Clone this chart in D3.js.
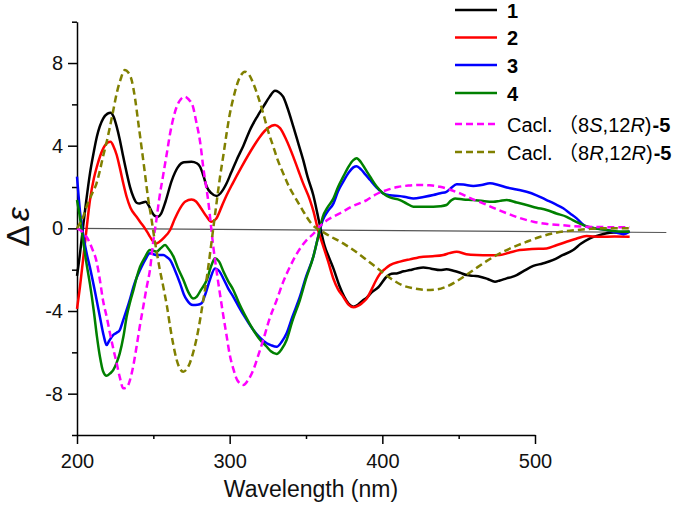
<!DOCTYPE html>
<html><head><meta charset="utf-8">
<script src="https://cdn.jsdelivr.net/npm/d3@7"></script>
<style>body{margin:0;background:#fff}svg{display:block}</style>
</head><body>
<svg id="c" width="687" height="507"></svg>
<script>
// ---- data ----
const xTicks = [200, 300, 400, 500];
const xMinor = [250, 350, 450];
const yTicks = [-8, -4, 0, 4, 8];
const yMinor = [-10, -6, -2, 2, 6, 10];
const xTitle = "Wavelength (nm)";
const zeroLine = [[200, 0], [586, -0.2]];

const s1 = [[200,-2.3],[202,-1.2],[204,0.1],[206,1.3],[208.5,2.66],[211,3.7],[213,4.43],[217.2,5.32],[220,5.55],[222,5.6],[224,5.4],[226,4.92],[228,4.3],[230.3,3.46],[232.5,2.7],[234.7,2.01],[237,1.5],[239,1.24],[241,1.2],[243,1.25],[245,1.29],[247,1.1],[249,0.8],[251,0.6],[253,0.56],[255,0.7],[258,1.3],[262,2.3],[266,2.95],[270,3.2],[275,3.22],[278.5,3.15],[280.6,2.98],[283,2.5],[285,2.01],[288,1.7],[291.5,1.56],[294,1.7],[298,2.18],[301,2.7],[304.5,3.3],[309,4.0],[313.3,4.76],[318,5.4],[322,5.88],[326,6.35],[329.7,6.66],[332,6.6],[335,6.37],[338,5.8],[341.7,4.92],[345,4.1],[348.2,3.3],[351,2.5],[354.8,1.6],[357.5,0.7],[359.5,0],[362,-0.8],[365,-1.4],[368,-1.95],[372,-2.8],[375,-3.3],[378,-3.65],[381,-3.79],[384,-3.7],[387,-3.5],[389.8,-3.35],[393,-3.1],[397.4,-2.85],[402.8,-2.34],[406,-2.2],[409.4,-2.18],[414,-2.08],[418,-2.02],[422,-1.95],[426.8,-1.89],[432,-1.95],[437.8,-2.02],[442,-1.98],[446.5,-2.05],[451,-2.15],[455.2,-2.26],[460,-2.3],[464,-2.34],[469,-2.45],[473.8,-2.58],[477,-2.52],[481.4,-2.42],[485,-2.35],[488,-2.26],[493,-2.05],[498.9,-1.82],[505,-1.7],[512,-1.53],[518,-1.3],[525,-1.05],[530,-0.75],[536,-0.48],[541,-0.35],[547,-0.24],[553,-0.2],[558,-0.18],[562,-0.16]];

const s2 = [[200,-3.9],[202,-2.8],[204,-1.5],[206,-0.2],[208.5,1.37],[211,2.4],[213,2.98],[217.2,3.87],[220,4.15],[222,4.19],[224,3.95],[226,3.55],[228,2.95],[230.3,2.18],[232.5,1.53],[235,1.0],[239,0.56],[241.5,0.3],[244.5,0],[247,-0.3],[249.5,-0.6],[252,-0.73],[254,-0.65],[257,-0.45],[261,-0.08],[264,0.45],[267.5,0.97],[271,1.3],[275,1.40],[278,1.3],[281,1.0],[285,0.56],[288,0.32],[291,0.45],[295,1.1],[298,1.6],[302,2.18],[308,3.0],[315.5,3.95],[320,4.45],[325,4.85],[329.7,5.0],[333,4.85],[337,4.3],[341.7,3.46],[345,2.8],[348,2.2],[352.6,1.37],[355,0.8],[357.6,0],[361,-0.8],[364.5,-1.6],[368,-2.45],[371,-2.95],[374.4,-3.31],[378,-3.7],[381,-3.82],[384,-3.75],[387,-3.6],[389.8,-3.4],[393,-2.95],[396,-2.5],[398.5,-2.2],[402,-1.95],[405,-1.78],[411.6,-1.61],[418,-1.5],[426.8,-1.37],[433,-1.35],[440,-1.29],[444,-1.2],[448.7,-1.13],[455,-1.25],[461.8,-1.29],[470,-1.3],[477,-1.29],[483,-1.18],[490,-1.05],[498,-1.0],[507.6,-0.97],[514,-0.82],[520.7,-0.65],[527,-0.5],[533.8,-0.37],[542.6,-0.41],[552,-0.4],[562,-0.41]];

const s3 = [[200,2.5],[201,1.6],[202,0.8],[204,-0.3],[206,-1.1],[208.5,-1.9],[211.8,-3.07],[215,-4.28],[217.5,-5.2],[219.4,-5.65],[221,-5.45],[223.8,-5.16],[226,-5.05],[228,-4.92],[230,-4.5],[232.5,-3.95],[235,-3.35],[237,-2.82],[239,-2.4],[241.3,-2.02],[244.5,-1.55],[247.8,-1.21],[250,-1.25],[252,-1.29],[256.5,-1.29],[259,-1.4],[261,-1.53],[264,-2.0],[267.5,-2.66],[270,-3.2],[272,-3.47],[274,-3.65],[276,-3.71],[279,-3.7],[281.6,-3.63],[284,-3.2],[287,-2.5],[290.4,-1.94],[293,-2.05],[296,-2.45],[299,-2.9],[302.4,-3.31],[306,-3.8],[310,-4.3],[315.5,-4.92],[320,-5.3],[324.3,-5.56],[327,-5.65],[330.8,-5.73],[334,-5.5],[337.3,-5.08],[341,-4.3],[346,-3.31],[350,-2.35],[354.8,-1.37],[358,-0.4],[361,0.4],[364,0.8],[368,1.21],[371,1.8],[374.4,2.26],[378,2.7],[381,2.95],[383.2,3.01],[386,2.85],[389,2.6],[392,2.34],[396,2.0],[400.6,1.69],[405,1.6],[411.6,1.56],[416,1.5],[420.3,1.45],[427,1.52],[433.4,1.61],[438,1.7],[442,1.77],[445,1.95],[448.7,2.14],[453,2.12],[459.6,2.05],[465,2.1],[470.5,2.18],[476,2.1],[481.5,1.98],[488,1.88],[494.5,1.77],[501,1.6],[507.6,1.37],[513,1.18],[518.5,0.97],[523,0.72],[527.3,0.48],[530.5,0.25],[533.8,0.08],[540,0.0],[547,-0.08],[553,-0.2],[558,-0.28],[562,-0.16]];

const s4 = [[200,1.37],[202,0.5],[204,-0.6],[206,-1.6],[208.5,-2.7],[211,-4.0],[213,-5.2],[215,-6.2],[217,-6.9],[219.4,-7.13],[222,-7.0],[223.8,-6.85],[226,-6.5],[228,-6.05],[230.5,-5.2],[232.5,-4.28],[235,-3.5],[237,-2.98],[239,-2.4],[241.3,-1.86],[244.5,-1.4],[247.8,-1.05],[250,-1.08],[252,-1.13],[255,-0.95],[257.7,-0.81],[260,-1.0],[263.2,-1.37],[266,-1.9],[269.7,-2.5],[273,-3.1],[276,-3.39],[278.5,-3.3],[281,-3.0],[285,-2.5],[288,-1.8],[290.4,-1.45],[293,-1.6],[296,-2.1],[299,-2.55],[302.4,-2.98],[306,-3.6],[310,-4.2],[315.5,-4.92],[320,-5.4],[324.3,-5.73],[327,-5.95],[330.8,-6.08],[334,-5.85],[337.3,-5.40],[341,-4.5],[346,-3.47],[350,-2.45],[354.8,-1.37],[358,-0.4],[361,0.56],[364,1.0],[368,1.45],[371,2.0],[374.4,2.5],[378,3.0],[381,3.3],[383.2,3.39],[386,3.2],[389,2.85],[392,2.5],[396,2.05],[400.6,1.69],[405,1.5],[411.6,1.37],[416,1.2],[420.3,1.05],[427,1.05],[433.4,1.05],[438,1.07],[442,1.13],[445,1.35],[447.6,1.45],[453,1.4],[459.6,1.37],[466,1.32],[472.7,1.29],[477,1.33],[481.5,1.37],[488,1.25],[494.5,1.13],[501,1.0],[507.6,0.89],[514,0.72],[520.7,0.56],[526,0.35],[531.6,0.16],[538,0.02],[547,-0.08],[555,-0.15],[562,-0.16]];

const calcS = [[200,0],[204,-0.2],[207,-0.5],[210,-1.0],[212.8,-1.6],[215,-2.5],[217,-3.47],[219.5,-4.3],[221.6,-5.08],[224,-5.9],[226,-6.53],[228,-7.2],[230.3,-7.74],[232.5,-7.7],[234.7,-7.34],[237,-6.6],[239,-5.73],[241,-4.8],[243.4,-3.79],[245.5,-2.9],[247.8,-2.0],[250,-0.6],[252,0.4],[254,1.5],[256.5,2.6],[259,3.7],[261,4.6],[263,5.3],[265.3,5.88],[268,6.25],[270.7,6.37],[273,6.25],[276,5.88],[278,5.2],[280.6,4.2],[282.8,2.9],[286,1.3],[289.3,-0.9],[291.5,-2.1],[293.7,-3.2],[296,-4.3],[298,-5.2],[300,-6.1],[302.4,-6.8],[305,-7.35],[309,-7.58],[312,-7.35],[315.5,-6.85],[318.5,-6.2],[322,-5.4],[326,-4.4],[330.8,-3.47],[335,-2.6],[339.5,-1.86],[345,-1.1],[350.4,-0.57],[355,-0.25],[359,0.1],[365,0.45],[372.3,0.73],[380,1.05],[389.8,1.37],[396,1.65],[402.8,1.85],[410,2.0],[417,2.07],[424.7,2.1],[431,2.08],[437.8,2.01],[444,1.88],[450.9,1.69],[458,1.45],[466,1.21],[474,0.95],[481.5,0.73],[490,0.5],[498.9,0.32],[507,0.22],[516.4,0.16],[525,0.11],[533.8,0.08],[545,0.06],[562,0.05]];

const calcR = [[200,0],[202,0.25],[204,0.56],[207,1.2],[210,1.7],[212.8,2.18],[215,2.8],[217,3.46],[219.5,4.2],[221.6,4.92],[224,5.8],[226,6.53],[228.5,7.2],[231.4,7.66],[233.5,7.55],[235.8,7.17],[238,6.3],[240.2,5.08],[242.5,3.8],[244.5,2.66],[246.5,1.5],[248.9,0.4],[250.5,-0.4],[252,-1.05],[254,-1.9],[256.5,-2.82],[259,-3.8],[261,-4.76],[263,-5.6],[265.3,-6.37],[267.5,-6.8],[269.6,-6.94],[272,-6.8],[274,-6.5],[276.5,-5.9],[279.5,-4.9],[282,-3.8],[285,-2.4],[287,-1.3],[289,-0.15],[291,1.0],[293.7,2.5],[296,3.6],[298,4.6],[300,5.5],[302.4,6.3],[306,7.2],[310,7.58],[313,7.4],[315.5,7.01],[318.5,6.4],[322,5.56],[325,4.75],[328.6,3.95],[331.5,3.3],[335.1,2.66],[339,2.0],[343.9,1.37],[348,0.85],[352.6,0.32],[356,0.05],[359,-0.08],[365,-0.35],[374.4,-0.73],[382,-1.1],[389.8,-1.53],[398,-2.0],[407,-2.5],[413,-2.75],[420.3,-2.9],[429,-2.98],[436,-2.95],[442,-2.82],[450,-2.5],[459.6,-2.02],[468,-1.6],[477,-1.21],[486,-0.9],[494.5,-0.65],[503,-0.42],[512,-0.24],[520,-0.14],[527.3,-0.08],[535,-0.03],[542.6,0],[562,0]];

const seriesNames = ["1", "2", "3", "4", "calcS", "calcR"];
const seriesColors = ["#000000", "#ff0000", "#0000ff", "#008000", "#ff00ff", "#808000"];
const seriesData = [s1, s2, s3, s4, calcS, calcR];
const seriesDashed = [false, false, false, false, true, true];

// ---- drawing ----
const svg = d3.select("#c");
const FONT = "Arial, 'Liberation Sans', 'Noto Sans CJK SC', sans-serif";
const x = d3.scaleLinear().domain([200, 500]).range([77, 535]);
const y = d3.scaleLinear().domain([-10, 10]).range([435, 21.7]);
const fmt = d => String(d);

// zero reference line
svg.append("path")
  .attr("d", d3.line().x(d => x(d[0])).y(d => y(d[1]))(zeroLine))
  .attr("stroke", "#555").attr("stroke-width", 1.2).attr("fill", "none");

// axes
svg.append("g").attr("transform", `translate(0,${y(-10)})`)
  .call(d3.axisBottom(x).tickValues(xTicks).tickSize(9).tickSizeOuter(0).tickPadding(10).tickFormat(fmt));
svg.append("g").attr("transform", `translate(0,${y(-10)})`)
  .call(d3.axisBottom(x).tickValues(xMinor).tickSize(4).tickSizeOuter(0).tickFormat(""))
  .select(".domain").remove();
svg.append("g").attr("transform", `translate(${x(200)},0)`)
  .call(d3.axisLeft(y).tickValues(yTicks).tickSize(9).tickSizeOuter(0).tickPadding(5).tickFormat(fmt));
svg.append("g").attr("transform", `translate(${x(200)},0)`)
  .call(d3.axisLeft(y).tickValues(yMinor).tickSize(5).tickSizeOuter(0).tickFormat(""))
  .select(".domain").remove();

svg.selectAll(".domain").attr("stroke", "#000").attr("stroke-width", 1.5);
svg.selectAll(".tick line").attr("stroke", "#000").attr("stroke-width", 1.5);
svg.selectAll(".tick text").attr("font-family", FONT).attr("font-size", 20).attr("fill", "#111");

// series
const line = d3.line().x(d => x(d[0])).y(d => y(d[1])).curve(d3.curveMonotoneX);
seriesData.forEach((data, i) => {
  svg.append("path")
    .attr("d", line(data))
    .attr("fill", "none")
    .attr("stroke", seriesColors[i])
    .attr("stroke-width", 2.5)
    .attr("stroke-linejoin", "round")
    .attr("stroke-dasharray", seriesDashed[i] ? "7,4" : null);
});

// axis titles
svg.append("text").attr("x", 311).attr("y", 497).attr("text-anchor", "middle")
  .attr("font-family", FONT).attr("font-size", 23).attr("fill", "#111").text(xTitle);
const yt = svg.append("text").attr("transform", "translate(29,227) rotate(-90)")
  .attr("text-anchor", "middle").attr("font-family", FONT).attr("font-size", 32).attr("fill", "#111");
yt.append("tspan").text("Δ");
yt.append("tspan").attr("dx", 4).attr("font-style", "italic").text("ε");

// legend
const legY = [10, 37.5, 65, 93, 124, 152];
const leg = svg.append("g");
seriesData.forEach((d, i) => {
  leg.append("line").attr("x1", 455).attr("x2", 497).attr("y1", legY[i]).attr("y2", legY[i])
    .attr("stroke", seriesColors[i]).attr("stroke-width", 2.5)
    .attr("stroke-dasharray", seriesDashed[i] ? "7,4" : null);
});
for (let i = 0; i < 4; i++) {
  leg.append("text").attr("x", 507).attr("y", legY[i] + 7.5)
    .attr("font-family", FONT).attr("font-size", 20).attr("font-weight", "bold").attr("fill", "#000")
    .text(seriesNames[i]);
}
const calcParts = [["S", "R"], ["R", "R"]];
calcParts.forEach((p, k) => {
  const t = leg.append("text").attr("x", 507).attr("y", legY[4 + k] + 7.5)
    .attr("font-family", FONT).attr("font-size", 20).attr("fill", "#000");
  t.append("tspan").text("Cacl. \uFF088");
  t.append("tspan").attr("font-style", "italic").text(p[0]);
  t.append("tspan").text(",12");
  t.append("tspan").attr("font-style", "italic").text(p[1]);
  t.append("tspan").text(")");
  t.append("tspan").attr("dx", 1).attr("font-weight", "bold").text("-5");
});
</script>
</body></html>
